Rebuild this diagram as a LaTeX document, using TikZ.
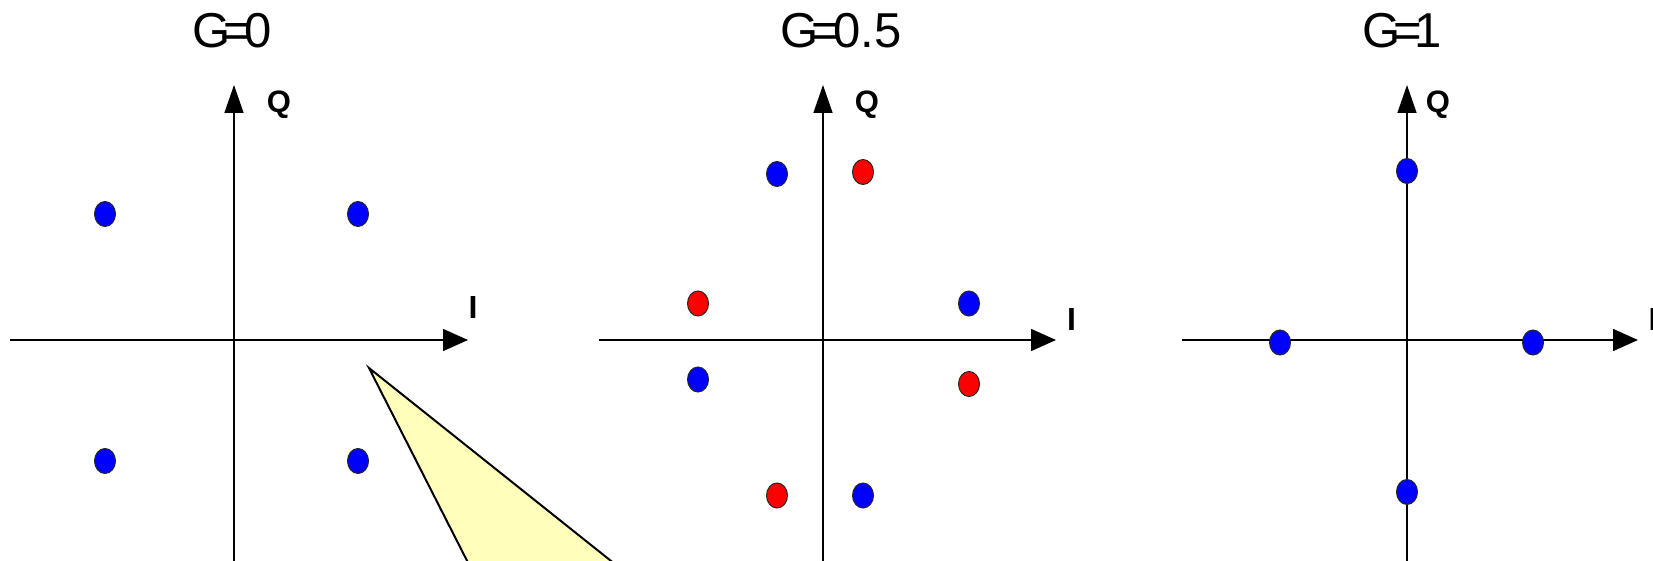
\documentclass[tikz,border=0pt]{standalone}
\usepackage{fontspec}
\setmainfont{Liberation Sans}
\usetikzlibrary{arrows.meta,shapes.geometric}
\definecolor{notefill}{RGB}{255,255,187}
\definecolor{dotblue}{RGB}{0,0,255}
\definecolor{dotred}{RGB}{255,0,0}
\newcommand{\gtitle}[1]{G\kern-3.5pt=\kern-3.5pt#1}
\begin{document}
\begin{tikzpicture}[x=0.5pt,y=-0.5pt,
  iaxis/.style={line width=0.75pt,-{Triangle[length=12.5pt,width=11pt]}},
  qaxis/.style={line width=0.75pt,-{Triangle[length=14pt,width=9.5pt]}},
  dot/.style={ellipse,draw=black!85,line width=0.5pt,minimum width=10.5pt,minimum height=12.5pt,inner sep=0pt},
  bdot/.style={dot,fill=dotblue},
  rdot/.style={dot,fill=dotred},
  title/.style={font=\fontsize{24.5}{28}\selectfont,inner sep=0pt},
  qlab/.style={font=\fontsize{15.5}{17}\selectfont\bfseries,inner sep=0pt},
  ilab/.style={font=\fontsize{16}{18}\selectfont\bfseries,inner sep=0pt}]
  \useasboundingbox (0,0) rectangle (1653,561);
  \clip (0,0) rectangle (1653,561);
  % callout wedge
  \coordinate (tip) at (369,368);
  \filldraw[fill=notefill,draw=black,line width=1pt] (tip) -- (487,600) -- (660,600) -- cycle;
  % G=0
  \node[title] (t0) at (232,30.5) {\gtitle{0}};
  \coordinate (i0a) at (10,340);
  \coordinate (i0b) at (468,340);
  \coordinate (q0a) at (234,600);
  \coordinate (q0b) at (234,85);
  \draw[iaxis] (i0a) -- (i0b);
  \draw[qaxis] (q0a) -- (q0b);
  \node[qlab] (q0) at (279,105) {Q};
  \node[ilab] (l0) at (473,307.5) {I};
  \node[bdot] (a1) at (105,214) {};
  \node[bdot] (a2) at (358,214) {};
  \node[bdot] (a3) at (105,461) {};
  \node[bdot] (a4) at (358,461) {};
  % G=0.5
  \node[title] (t1) at (841,30.5) {\gtitle{0.5}};
  \coordinate (i1a) at (599,340);
  \coordinate (i1b) at (1056,340);
  \coordinate (q1a) at (823,600);
  \coordinate (q1b) at (823,85);
  \draw[iaxis] (i1a) -- (i1b);
  \draw[qaxis] (q1a) -- (q1b);
  \node[qlab] (q1) at (867,105) {Q};
  \node[ilab] (l1) at (1071.5,319) {I};
  \node[bdot] (b1) at (777,174) {};
  \node[rdot] (b2) at (863,172) {};
  \node[rdot] (b3) at (698,303.5) {};
  \node[bdot] (b4) at (969,303.5) {};
  \node[bdot] (b5) at (698,379.5) {};
  \node[rdot] (b6) at (969,384) {};
  \node[rdot] (b7) at (777,495.5) {};
  \node[bdot] (b8) at (863,495.5) {};
  % G=1
  \node[title] (t2) at (1402,30.5) {\gtitle{1}};
  \coordinate (i2a) at (1182,340);
  \coordinate (i2b) at (1638,340);
  \coordinate (q2a) at (1407,600);
  \coordinate (q2b) at (1407,85);
  \draw[iaxis] (i2a) -- (i2b);
  \draw[qaxis] (q2a) -- (q2b);
  \node[qlab] (q2) at (1438,105) {Q};
  \node[ilab] (l2) at (1653,319) {I};
  \node[bdot] (c1) at (1280,342.5) {};
  \node[bdot] (c2) at (1533,342.5) {};
  \node[bdot] (c3) at (1407,171) {};
  \node[bdot] (c4) at (1407,492) {};
\end{tikzpicture}
\end{document}
